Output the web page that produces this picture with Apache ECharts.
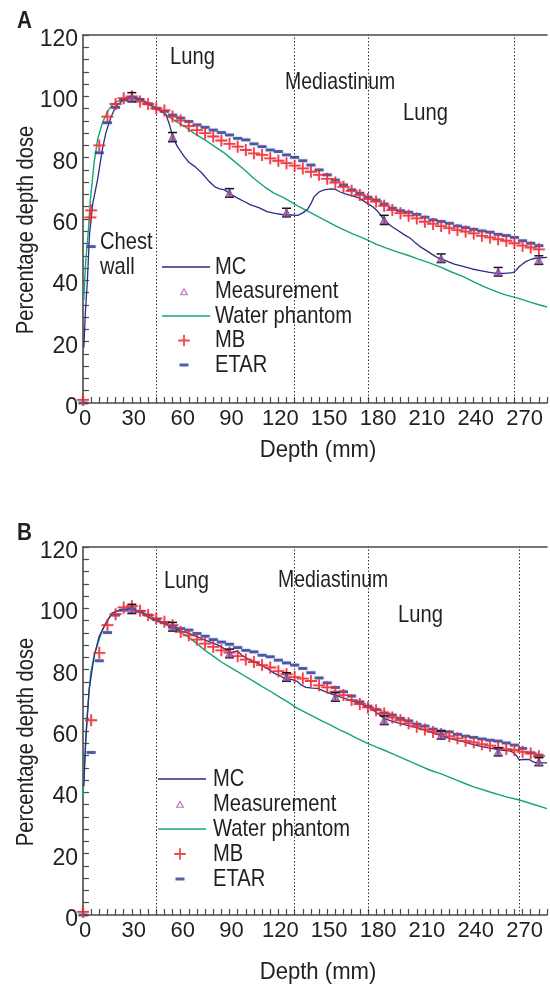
<!DOCTYPE html>
<html>
<head>
<meta charset="utf-8">
<script src="https://cdn.jsdelivr.net/npm/echarts@6/dist/echarts.min.js"></script>
<style>
  html, body { margin: 0; padding: 0; background: #fff; }
  #chart { width: 550px; height: 986px; }
</style>
</head>
<body>
<div id="chart"></div>
<script>
// ---------- Panel A (chest wall / lung / mediastinum / lung) ----------
const mcDepthA = [0.5, 1.5, 2.7, 4, 6, 9, 12, 14, 17, 20, 24, 28, 32, 36, 40, 44, 48, 51, 53, 55, 58, 62, 65, 69, 73, 77, 81, 84, 87, 91, 95, 99, 103, 108, 113, 118, 124, 128, 132, 135, 138, 140, 142, 145, 148, 152, 155, 158, 161, 165, 169, 172, 175, 178, 181, 185, 189, 193, 197, 201, 204, 207, 211, 215, 218, 222, 228, 234, 239, 244, 249, 254, 259, 264, 266, 268, 270, 272, 275, 278, 285];
const mcDoseA  = [18, 30, 40, 55, 65, 73, 83, 88, 93, 96.5, 98.5, 99.4, 99.5, 98.8, 97.5, 96.2, 95.2, 94, 91, 87, 83.6, 80.5, 78.5, 77, 75, 72.5, 70.5, 69.8, 69.5, 68, 66.8, 65.7, 64.6, 63.7, 62.4, 61.8, 61.3, 61.3, 61.2, 62, 63.2, 65, 67.3, 68.8, 69.5, 69.8, 69.7, 68.8, 68.2, 67.6, 67, 66, 65, 64, 62.5, 59.7, 57.8, 56.4, 55, 53.7, 52.3, 51, 49.7, 48.3, 47.3, 46.6, 45.3, 44.5, 43.7, 43.2, 42.7, 42.3, 42.3, 42.5, 43.3, 44.5, 45.3, 46.1, 46.8, 47.2, 47.5];

const waterDepthA = [0.5, 1.5, 3.3, 4.5, 6.8, 9, 11.8, 15, 18, 21, 24, 28, 31.2, 35, 38.3, 42, 45.4, 49, 52.5, 57, 62.7, 68, 74.9, 81, 87.1, 93, 99.3, 105, 111.5, 117, 123.7, 128, 131.8, 138, 145, 152.2, 158, 165, 172.5, 180, 186, 192.9, 200, 206, 213.2, 220, 226, 233.6, 240, 247, 253.9, 260, 267, 274.2, 279, 285];
const waterDoseA  = [33.6, 45, 56.4, 66, 78.2, 86, 91.2, 95, 97.2, 98.3, 99, 99.7, 99.9, 99.3, 98.3, 97.2, 96.1, 94.8, 93.4, 91.8, 90.1, 88, 85.8, 83.6, 81.4, 78.8, 76, 73.2, 70.5, 68.5, 66.8, 65.5, 64.3, 62.6, 60.6, 58.6, 57, 55.3, 53.7, 51.8, 50.6, 49.3, 48.1, 46.9, 45.6, 44.2, 42.8, 41.2, 39.5, 37.8, 36.3, 35.2, 34.2, 33, 32.2, 31.3];

const mbDepthA = [0, 4.5, 5, 10, 15, 20, 25, 30, 35, 40, 45, 50, 55, 60, 65, 70, 75, 80, 85, 90, 95, 100, 105, 110, 115, 120, 125, 130, 135, 140, 145, 150, 155, 160, 165, 170, 175, 180, 185, 190, 195, 200, 205, 210, 215, 220, 225, 230, 235, 240, 245, 250, 255, 260, 265, 270, 275, 280];
const mbDoseA  = [1, 60.5, 62.8, 84, 93.4, 97.5, 99.4, 100, 98.3, 97.5, 96.1, 95.4, 93.4, 92.1, 90.3, 89, 88, 86.9, 85.6, 84.5, 83.6, 82.5, 81.4, 80.9, 79.8, 79, 78.2, 77.4, 76.5, 75.4, 74.4, 73.1, 71.9, 70.5, 69.2, 67.8, 66.5, 65.7, 64.3, 62.9, 61.9, 61.1, 60.2, 59.1, 58.4, 57.7, 57, 56.4, 55.9, 55.3, 54.5, 54, 53.4, 52.9, 52.1, 51.3, 50.7, 50.1];

const etarDepthA = [0, 5, 10, 15, 20, 25, 30, 35, 40, 45, 50, 55, 60, 65, 70, 75, 80, 85, 90, 95, 100, 105, 110, 115, 120, 125, 130, 135, 140, 145, 150, 155, 160, 165, 170, 175, 180, 185, 190, 195, 200, 205, 210, 215, 220, 225, 230, 235, 240, 245, 250, 255, 260, 265, 270, 275, 280];
const etarDoseA  = [0, 51, 81.6, 91.4, 96.4, 98.8, 99.6, 99, 97.6, 96.1, 95.1, 93.9, 92.9, 91.8, 90.7, 89.9, 89, 88.2, 87.4, 86.3, 85.8, 84.5, 83.6, 82.5, 82, 80.9, 80.1, 79, 77.6, 76, 74.4, 72.7, 71.1, 69.5, 68.4, 67.1, 66.2, 64.9, 63.5, 62.7, 62.2, 61.5, 60.6, 59.7, 59.2, 58.6, 57.7, 57.2, 56.6, 56.1, 55.7, 55, 54.6, 54, 52.9, 52.1, 51.3];

const measDepthA = [30, 55, 90, 125, 185, 220, 255, 280];
const measDoseA  = [99.7, 86.7, 68.5, 62.1, 59.7, 47.2, 42.8, 46.6];
const measErrA   = [1.5, 1.5, 1.4, 1.4, 1.5, 1.4, 1.4, 1.4];

const boundariesA = [45, 130, 175, 265];

// ---------- Panel B ----------
const mcDepthB = [0.5, 1.7, 3.7, 6.8, 9.8, 13.9, 18, 24, 30, 36, 43, 50, 54, 57, 61, 65, 70, 75, 79, 83, 87, 91, 93, 95, 98, 101, 105, 109.5, 113.6, 117.6, 121, 124, 128, 131.5, 134, 137, 141, 144, 148, 152, 158, 164, 168, 172.5, 176, 179, 182, 185, 189, 193, 198, 203, 208, 213, 218, 223, 228, 233.6, 238, 243.7, 249, 254, 258, 262, 264, 266, 268, 271, 274, 276, 278.3, 285];
const mcDoseB  = [42, 57, 73.3, 84.2, 90.7, 95, 98.5, 99.6, 99.9, 98.5, 96.3, 95, 94, 93.1, 92.5, 91.8, 90.8, 89.6, 88.8, 88, 86.8, 85.5, 85.9, 86.1, 84.5, 83.6, 82.6, 81.5, 80.2, 78.8, 78, 77.1, 76.8, 76.2, 75, 74.2, 74, 73.9, 73, 72.2, 71.1, 70.1, 69.3, 68.4, 67.6, 66.5, 65.3, 64.1, 63.3, 62.7, 62, 61.4, 60.6, 59.7, 58.8, 57.9, 57.2, 56.5, 55.8, 55.1, 54.5, 54, 53.7, 53.5, 53.1, 52.1, 50.6, 50.7, 50.7, 50.1, 49.6, 49.6];

const waterDepthB = [0, 1, 2, 3.3, 4.7, 7, 9.8, 12, 14.9, 17, 20, 24, 28, 33, 38.3, 42, 46.4, 51, 56.6, 60, 64.7, 70, 74.9, 80, 85, 90, 95.2, 100, 105.4, 110, 115.6, 120, 125.7, 131.8, 138, 142, 147, 152.2, 157, 162.4, 168, 175, 180, 184.7, 192, 199, 206, 213.2, 220, 229.5, 235, 240, 250, 260, 268, 276, 285];
const waterDoseB  = [38.5, 50, 60.3, 70, 78.8, 85, 89.6, 93, 96.1, 97.7, 99, 99.7, 99.9, 99.3, 98.3, 97.3, 96.1, 94.8, 93.4, 92.2, 90.7, 88.5, 86.3, 84.4, 82.5, 80.9, 79.3, 77.7, 76, 74.5, 72.8, 71.3, 69.5, 67.4, 65.7, 64.6, 63.2, 61.9, 60.5, 59.2, 57.7, 55.9, 54.8, 53.8, 52.1, 50.5, 48.9, 47.2, 46, 44, 42.8, 41.8, 40.1, 38.5, 37.5, 36.2, 34.7];

const mbDepthB = [0, 5, 10, 15, 20, 25, 30, 35, 40, 45, 50, 55, 60, 65, 70, 75, 80, 85, 90, 95, 100, 105, 110, 115, 120, 125, 130, 135, 140, 145, 150, 155, 160, 165, 170, 175, 180, 185, 190, 195, 200, 205, 210, 215, 220, 225, 230, 235, 240, 245, 250, 255, 260, 265, 270, 275, 280];
const mbDoseB  = [1, 63.5, 85.5, 94.5, 98.1, 100.3, 100.7, 99.2, 97.8, 96.7, 95.6, 94.5, 92.3, 91.2, 89.8, 88.5, 87.4, 86.3, 85.6, 84.4, 83.3, 82.5, 81.5, 80.7, 79.5, 78.5, 77.6, 77.1, 76.3, 74.9, 74.2, 72.8, 71.7, 70.1, 68.8, 67.7, 66.8, 65.7, 64.4, 63.5, 62.5, 61.4, 60.5, 59.7, 59, 58.3, 57.6, 56.8, 56.3, 55.7, 55.2, 54.6, 54.1, 53.8, 53.2, 52.7, 51.8];

const etarDepthB = mbDepthB;
const etarDoseB  = [0, 53, 82.9, 92.1, 97.8, 99.4, 99.9, 99, 97.8, 96.4, 95.3, 93.9, 93.4, 92.9, 91.8, 90.9, 89.8, 89, 88.3, 87.2, 86.3, 85.8, 84.7, 84.2, 83.1, 82.2, 81.5, 80.4, 79, 77.3, 75.7, 74.2, 72.8, 71.4, 69.5, 68.1, 67, 65.9, 65.2, 64.1, 63.3, 62.2, 61.6, 60.6, 60, 59.7, 58.9, 58.3, 57.9, 57.4, 57, 56.7, 56.1, 55.4, 54.3, 52.9, 52.1];

const measDepthB = [30, 55, 90, 125, 155, 185, 220, 255, 280];
const measDoseB  = [99.8, 94, 85.3, 77.6, 71.1, 63.5, 58.7, 53.2, 50];
const measErrB   = [1.5, 1.4, 1.4, 1.4, 1.4, 1.4, 1.3, 1.3, 1.3];

const boundariesB = [45, 130, 175, 268];

// ---------- axes and legend text ----------
const xRange = [0, 285];
const yRange = [0, 120];
const xLabelStep = 30;
const yLabelStep = 20;
const legendNames = ['MC', 'Measurement', 'Water phantom', 'MB', 'ETAR'];

const FONT = "'Liberation Sans', Arial, sans-serif";
const NARROW = 0.84;            // horizontal squeeze for the condensed lettering
const INK = '#231f20';
const AXIS = '#4a4a4a';
const C_MC = '#2b2d84';
const C_WATER = '#14a676';
const C_MB = '#ed1c24';
const C_ETAR = '#2b3990';
const C_MEAS = '#a25aaa';

const zip = (xs, ys) => xs.map((x, i) => [x, ys[i]]);

// Legend icons drawn inside a 48x14 box (two tiny specks fix the box size).
const BOX = 'M0,0h0.01v0.01h-0.01z M47.99,13.99h0.01v0.01h-0.01z ';
const ICON_LINE = 'path://' + BOX + 'M0,6.35h48v1.3h-48z';
const ICON_PLUS = 'path://' + BOX + 'M21.1,1.2h1.8v4.9h4.9v1.8h-4.9v4.9h-1.8v-4.9h-4.9v-1.8h4.9z';
const ICON_DASH = 'path://' + BOX + 'M17.5,5.6h9v2.8h-9z';
const ICON_TRI  = 'path://' + BOX + 'M22,3.2L26.4,10.8L17.6,10.8Z M22,5.4L19.7,9.7L24.3,9.7Z';

function xAxes(grid) {
  return [{
    type: 'value', gridIndex: grid, min: xRange[0], max: xRange[1], interval: 5,
    position: 'bottom',
    axisLine: { lineStyle: { color: AXIS, width: 1.6 } },
    axisTick: { inside: true, length: 6, lineStyle: { color: AXIS, width: 1.2 } },
    axisLabel: {
      color: INK, fontSize: 22, fontFamily: FONT, margin: 5, padding: [0, 0, 0, 4],
      formatter: v => (v % xLabelStep === 0 && v <= 270) ? String(v) : ''
    },
    splitLine: { show: false }
  }, {
    type: 'value', gridIndex: grid, min: xRange[0], max: xRange[1], position: 'top',
    axisLine: { lineStyle: { color: AXIS, width: 1.6 } },
    axisTick: { show: false }, axisLabel: { show: false }, splitLine: { show: false }
  }];
}

function yAxis(grid) {
  return {
    type: 'value', gridIndex: grid, min: yRange[0], max: yRange[1], interval: 4,
    axisLine: { show: true, lineStyle: { color: AXIS, width: 1.6 } },
    axisTick: { inside: true, length: 6, lineStyle: { color: AXIS, width: 1.2 } },
    axisLabel: {
      color: INK, fontSize: 23, fontFamily: FONT, margin: 5,
      verticalAlign: 'top', lineHeight: 9,
      formatter: v => (v % yLabelStep === 0) ? String(v) : ''
    },
    splitLine: { show: false }
  };
}

function panelSeries(p, xa, ya) {
  const common = { xAxisIndex: xa, yAxisIndex: ya };
  return [
    Object.assign({
      name: 'Water phantom', type: 'line', data: zip(p.waterDepth, p.waterDose),
      symbol: 'none', lineStyle: { color: C_WATER, width: 1.4 }, itemStyle: { color: C_WATER },
      z: 2, silent: true
    }, common),
    Object.assign({
      name: 'MC', type: 'line', data: zip(p.mcDepth, p.mcDose),
      symbol: 'none', lineStyle: { color: C_MC, width: 1.3 }, itemStyle: { color: C_MC },
      z: 3, silent: true,
      markLine: {
        silent: true, symbol: 'none', label: { show: false },
        lineStyle: { color: '#333', width: 1, type: [1.5, 2] },
        data: p.bounds.map(b => ({ xAxis: b }))
      }
    }, common),
    Object.assign({
      name: 'ETAR', type: 'scatter', data: zip(p.etarDepth, p.etarDose),
      symbol: 'rect', symbolSize: [9, 2.8],
      itemStyle: { color: C_ETAR, shadowBlur: 2, shadowColor: 'rgba(130,150,215,0.7)' },
      z: 4, silent: true
    }, common),
    Object.assign({
      name: 'MB', type: 'scatter', data: zip(p.mbDepth, p.mbDose),
      symbol: 'path://M5.1,0h1.8v5.1h5.1v1.8h-5.1v5.1h-1.8v-5.1h-5.1v-1.8h5.1z', symbolSize: 12,
      itemStyle: { color: C_MB, shadowBlur: 1.5, shadowColor: 'rgba(245,130,140,0.6)' },
      z: 5, silent: true
    }, common),
    Object.assign({
      type: 'custom', data: p.measDepth.map((d, i) => [d, p.measDose[i], p.measErr[i]]),
      renderItem: (params, api) => {
        const x = api.value(0), y = api.value(1), e = api.value(2);
        const t = api.coord([x, y + e]), b = api.coord([x, y - e]);
        const hw = 4.5, st = { stroke: '#111', lineWidth: 1.5 };
        return { type: 'group', children: [
          { type: 'line', shape: { x1: t[0], y1: t[1], x2: b[0], y2: b[1] }, style: st },
          { type: 'line', shape: { x1: t[0] - hw, y1: t[1], x2: t[0] + hw, y2: t[1] }, style: st },
          { type: 'line', shape: { x1: b[0] - hw, y1: b[1], x2: b[0] + hw, y2: b[1] }, style: st }
        ] };
      },
      z: 6, silent: true
    }, common),
    Object.assign({
      name: 'Measurement', type: 'scatter', data: zip(p.measDepth, p.measDose),
      symbol: 'triangle', symbolSize: [8, 8],
      itemStyle: { color: C_MEAS, borderColor: '#6d3d86', borderWidth: 0.8 },
      z: 7, silent: true
    }, common)
  ];
}

// Legend keys come from the library; their captions are drawn as squeezed text.
function legendAt(left, top, gap) {
  return {
    orient: 'vertical', left: left, top: top, padding: 0,
    itemWidth: 48, itemHeight: 14, itemGap: gap, selectedMode: false,
    formatter: () => ' ',
    textStyle: { fontSize: 24, lineHeight: 24, fontFamily: FONT },
    data: [
      { name: 'MC', icon: ICON_LINE, itemStyle: { color: C_MC } },
      { name: 'Measurement', icon: ICON_TRI, itemStyle: { color: C_MEAS, borderWidth: 0 } },
      { name: 'Water phantom', icon: ICON_LINE, itemStyle: { color: C_WATER } },
      { name: 'MB', icon: ICON_PLUS, itemStyle: { color: C_MB, shadowBlur: 0 } },
      { name: 'ETAR', icon: ICON_DASH, itemStyle: { color: C_ETAR, shadowBlur: 0 } }
    ]
  };
}

function label(text, x, y, extra) {
  return Object.assign({
    type: 'text', x: x, y: y, silent: true, scaleX: NARROW,
    style: { text: text, fill: INK, font: '24px ' + FONT, verticalAlign: 'middle', align: 'left' }
  }, extra || {});
}
function centred(text, x, y, extra) {
  const t = label(text, x, y, extra);
  t.style.align = 'center';
  return t;
}

function legendCaptions(x, y0, step) {
  return legendNames.map((n, i) => label(n, x, y0 + i * step));
}

const panelA = {
  mcDepth: mcDepthA, mcDose: mcDoseA, waterDepth: waterDepthA, waterDose: waterDoseA,
  mbDepth: mbDepthA, mbDose: mbDoseA, etarDepth: etarDepthA, etarDose: etarDoseA,
  measDepth: measDepthA, measDose: measDoseA, measErr: measErrA, bounds: boundariesA
};
const panelB = {
  mcDepth: mcDepthB, mcDose: mcDoseB, waterDepth: waterDepthB, waterDose: waterDoseB,
  mbDepth: mbDepthB, mbDose: mbDoseB, etarDepth: etarDepthB, etarDose: etarDoseB,
  measDepth: measDepthB, measDose: measDoseB, measErr: measErrB, bounds: boundariesB
};

const option = {
  animation: false,
  backgroundColor: '#fff',
  grid: [
    { left: 83, top: 35, width: 467, height: 368 },
    { left: 83, top: 547, width: 467, height: 368 }
  ],
  xAxis: [...xAxes(0), ...xAxes(1)],
  yAxis: [yAxis(0), yAxis(1)],
  legend: [legendAt(162, 255, 0.5), legendAt(158, 767, 1)],
  series: [...panelSeries(panelA, 0, 0), ...panelSeries(panelB, 2, 1)],
  graphic: [
    label('A', 17, 22, { scaleX: 0.9, style: { text: 'A', fill: INK, font: 'bold 23px ' + FONT, verticalAlign: 'middle' } }),
    label('B', 17, 534, { scaleX: 0.9, style: { text: 'B', fill: INK, font: 'bold 23px ' + FONT, verticalAlign: 'middle' } }),
    centred('Percentage depth dose', 26, 230, { rotation: Math.PI / 2 }),
    centred('Percentage depth dose', 26, 742, { rotation: Math.PI / 2 }),
    centred('Depth (mm)', 318, 450, { scaleX: 0.92 }),
    centred('Depth (mm)', 318, 972, { scaleX: 0.92 }),
    label('Lung', 170, 57), label('Mediastinum', 285, 82, { scaleX: 0.81 }), label('Lung', 403, 113),
    label('Chest', 100, 242), label('wall', 100, 267),
    label('Lung', 164, 581), label('Mediastinum', 278, 580, { scaleX: 0.81 }), label('Lung', 398, 615),
    ...legendCaptions(215, 267, 24.5),
    ...legendCaptions(213, 779, 25)
  ]
};

const chart = echarts.init(document.getElementById('chart'), null, { renderer: 'canvas' });
chart.setOption(option);
</script>
</body>
</html>
